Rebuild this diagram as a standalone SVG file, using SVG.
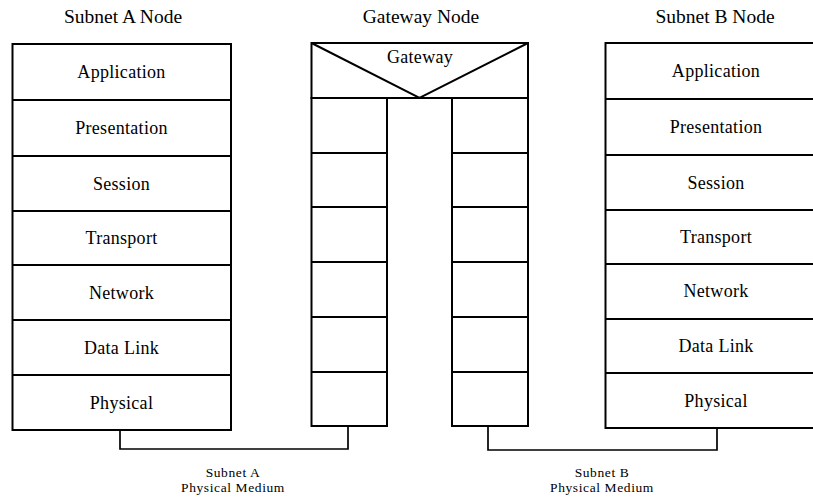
<svg xmlns="http://www.w3.org/2000/svg" width="813" height="501" viewBox="0 0 813 501">
  <style>
    .box { fill: #ffffff; stroke: #000000; stroke-width: 2; }
    .ln { fill: none; stroke: #000000; stroke-width: 2; }
    .wire { fill: none; stroke: #000000; stroke-width: 1.7; }
    .title { font-family: "Liberation Serif", "Times New Roman", serif; font-size: 19.5px; text-anchor: middle; fill: #000; }
    .layer { font-family: "Liberation Serif", "Times New Roman", serif; font-size: 18px; letter-spacing: 0.3px; text-anchor: middle; fill: #000; }
    .medium { font-family: "Liberation Serif", "Times New Roman", serif; font-size: 13.5px; letter-spacing: 0.6px; text-anchor: middle; fill: #000; }
  </style>

  <rect x="0" y="0" width="813" height="501" fill="#ffffff"/>

  <!-- connectors: physical media between stacks -->
  <g id="connectors">
    <polyline class="wire" points="120,430 120,449 348,449 348,426"/>
    <polyline class="wire" points="488,426 488,450 717,450 717,428"/>
  </g>

  <!-- Subnet A protocol stack -->
  <g id="subnet-a-node">
    <text class="title" x="123" y="23">Subnet A Node</text>
    <rect class="box" x="12.5" y="44" width="218.5" height="386"/>
    <path class="ln" d="M12.5 100H231M12.5 156H231M12.5 211H231M12.5 265H231M12.5 320H231M12.5 375H231"/>
    <text class="layer" x="121.5" y="78">Application</text>
    <text class="layer" x="121.5" y="134">Presentation</text>
    <text class="layer" x="121.5" y="189.5">Session</text>
    <text class="layer" x="121.5" y="244">Transport</text>
    <text class="layer" x="121.5" y="298.5">Network</text>
    <text class="layer" x="121.5" y="353.5">Data Link</text>
    <text class="layer" x="121.5" y="408.5">Physical</text>
  </g>

  <!-- Gateway: relay box over two lower-layer columns -->
  <g id="gateway-node">
    <text class="title" x="421" y="23">Gateway Node</text>
    <rect class="box" x="311.5" y="43" width="216.5" height="55"/>
    <polyline class="ln" points="311.5,43 419.5,98 528,43"/>
    <text class="layer" x="420" y="63">Gateway</text>
    <rect class="box" x="311.5" y="98" width="75.5" height="328"/>
    <path class="ln" d="M311.5 153H387M311.5 207H387M311.5 262H387M311.5 317H387M311.5 372H387"/>
    <rect class="box" x="452" y="98" width="76" height="328"/>
    <path class="ln" d="M452 153H528M452 207H528M452 262H528M452 317H528M452 372H528"/>
  </g>

  <!-- Subnet B protocol stack -->
  <g id="subnet-b-node">
    <text class="title" x="715" y="23">Subnet B Node</text>
    <rect class="box" x="605.5" y="43" width="221.5" height="385"/>
    <path class="ln" d="M605.5 99H827M605.5 155H827M605.5 210H827M605.5 264H827M605.5 319H827M605.5 373H827"/>
    <text class="layer" x="716" y="77">Application</text>
    <text class="layer" x="716" y="133">Presentation</text>
    <text class="layer" x="716" y="188.5">Session</text>
    <text class="layer" x="716" y="243">Transport</text>
    <text class="layer" x="716" y="297">Network</text>
    <text class="layer" x="716" y="352">Data Link</text>
    <text class="layer" x="716" y="406.5">Physical</text>
  </g>

  <!-- medium labels -->
  <g id="subnet-a-medium">
    <text class="medium" x="233" y="477">Subnet A</text>
    <text class="medium" x="233" y="492">Physical Medium</text>
  </g>
  <g id="subnet-b-medium">
    <text class="medium" x="602" y="477">Subnet B</text>
    <text class="medium" x="602" y="492">Physical Medium</text>
  </g>
</svg>
